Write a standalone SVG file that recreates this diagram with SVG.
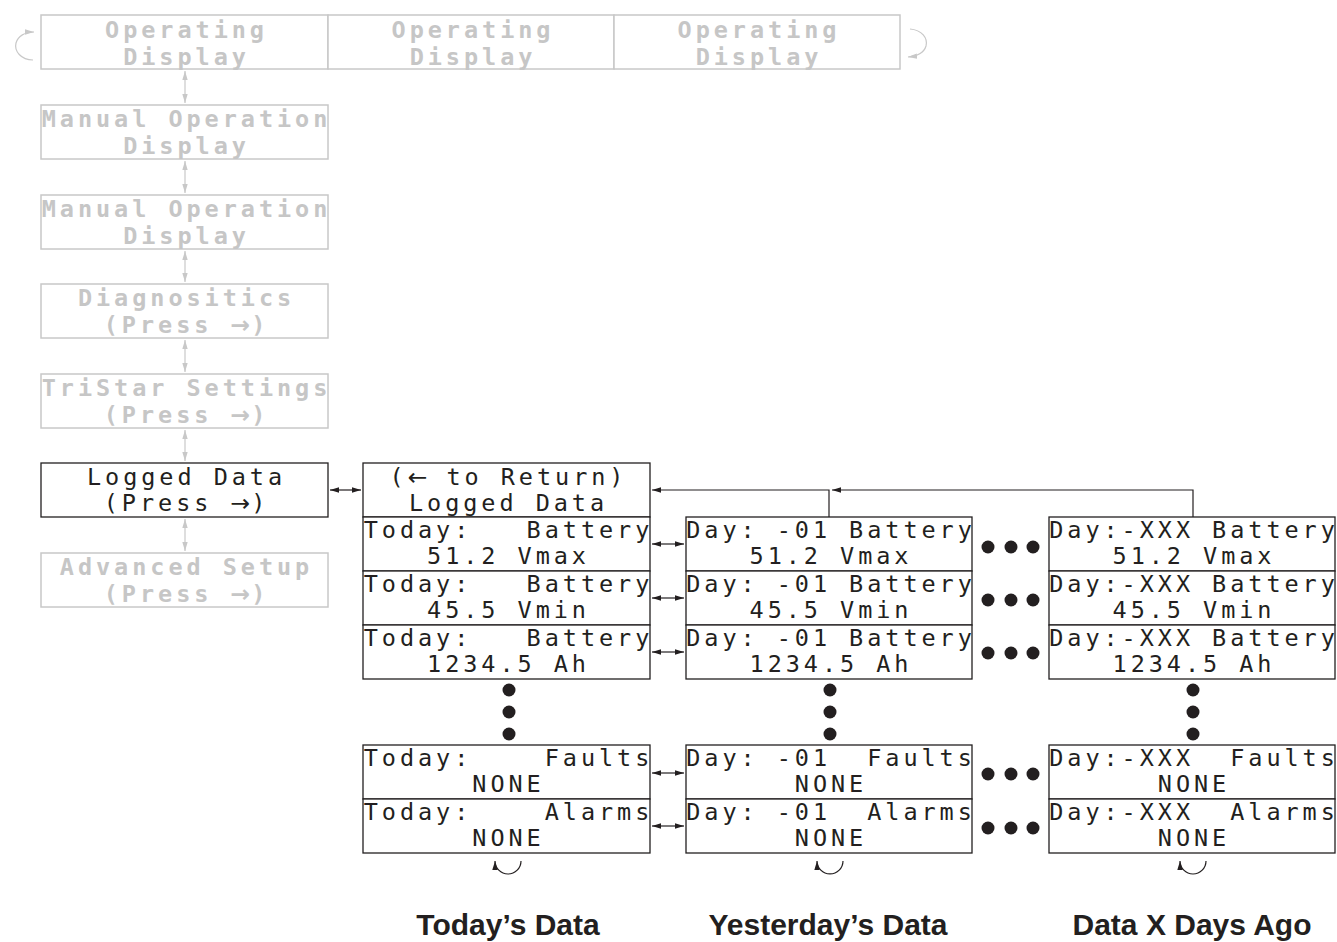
<svg xmlns="http://www.w3.org/2000/svg" width="1337" height="942" viewBox="0 0 1337 942">
<style>
.g{fill:#fff;stroke:#c8c8c8;stroke-width:1.5}
.b{fill:#fff;stroke:#231f20;stroke-width:1.3}
.gt{font-family:"DejaVu Sans Mono","Liberation Mono",monospace;font-weight:bold;font-size:23.5px;letter-spacing:3.95px;fill:#c6c6c6;text-anchor:middle}
.bt{font-family:"DejaVu Sans Mono","Liberation Mono",monospace;font-size:23.5px;letter-spacing:3.95px;fill:#231f20;text-anchor:middle}
.ar{font-family:"DejaVu Sans",sans-serif;letter-spacing:1px}
.lbl{font-family:"Liberation Sans",Arial,sans-serif;font-weight:bold;font-size:30px;fill:#231f20;text-anchor:middle}
.gl{fill:none;stroke:#c8c8c8;stroke-width:1.2}
.bl{fill:none;stroke:#231f20;stroke-width:1.2}
.dot{fill:#231f20}
</style>
<defs>
<marker id="ab" viewBox="0 0 10 6" refX="10" refY="3" markerWidth="9" markerHeight="5.4" markerUnits="userSpaceOnUse" orient="auto-start-reverse"><path d="M0,0 L10,3 L0,6 Z" fill="#231f20"/></marker>
<marker id="ag" viewBox="0 0 10 6" refX="10" refY="3" markerWidth="9" markerHeight="5.4" markerUnits="userSpaceOnUse" orient="auto-start-reverse"><path d="M0,0 L10,3 L0,6 Z" fill="#c8c8c8"/></marker>
</defs>

<g id="connectors">
<path class="gl" d="M185,71 V103" marker-start="url(#ag)" marker-end="url(#ag)"/>
<path class="gl" d="M185,161 V193" marker-start="url(#ag)" marker-end="url(#ag)"/>
<path class="gl" d="M185,251 V282" marker-start="url(#ag)" marker-end="url(#ag)"/>
<path class="gl" d="M185,340 V372" marker-start="url(#ag)" marker-end="url(#ag)"/>
<path class="gl" d="M185,430 V461" marker-start="url(#ag)" marker-end="url(#ag)"/>
<path class="gl" d="M185,519 V551" marker-start="url(#ag)" marker-end="url(#ag)"/>
<path class="gl" d="M33,60 C21,60 14,51 16,43 C18,36 25,32 34,32" marker-end="url(#ag)"/>
<path class="gl" d="M910,29 C922,30 928,38 926,46 C924,53 918,56 908,57" marker-end="url(#ag)"/>
<path class="bl" d="M330,490 H361" marker-start="url(#ab)" marker-end="url(#ab)"/>
<path class="bl" d="M652,544 H684" marker-start="url(#ab)" marker-end="url(#ab)"/>
<path class="bl" d="M652,598 H684" marker-start="url(#ab)" marker-end="url(#ab)"/>
<path class="bl" d="M652,652 H684" marker-start="url(#ab)" marker-end="url(#ab)"/>
<path class="bl" d="M652,773 H684" marker-start="url(#ab)" marker-end="url(#ab)"/>
<path class="bl" d="M652,826 H684" marker-start="url(#ab)" marker-end="url(#ab)"/>
<path class="bl" d="M829,517 V490 H652" marker-end="url(#ab)"/>
<path class="bl" d="M1193,517 V490 H832" marker-end="url(#ab)"/>
<path class="bl" d="M521,861 A13,13 0 0 1 495,861" marker-end="url(#ab)"/>
<path class="bl" d="M843,861 A13,13 0 0 1 817,861" marker-end="url(#ab)"/>
<path class="bl" d="M1206,861 A13,13 0 0 1 1180,861" marker-end="url(#ab)"/>
</g>

<g id="dots">
<circle class="dot" cx="988" cy="547" r="6.5"/><circle class="dot" cx="1011" cy="547" r="6.5"/><circle class="dot" cx="1033" cy="547" r="6.5"/>
<circle class="dot" cx="988" cy="600" r="6.5"/><circle class="dot" cx="1011" cy="600" r="6.5"/><circle class="dot" cx="1033" cy="600" r="6.5"/>
<circle class="dot" cx="988" cy="653" r="6.5"/><circle class="dot" cx="1011" cy="653" r="6.5"/><circle class="dot" cx="1033" cy="653" r="6.5"/>
<circle class="dot" cx="988" cy="774" r="6.5"/><circle class="dot" cx="1011" cy="774" r="6.5"/><circle class="dot" cx="1033" cy="774" r="6.5"/>
<circle class="dot" cx="988" cy="828" r="6.5"/><circle class="dot" cx="1011" cy="828" r="6.5"/><circle class="dot" cx="1033" cy="828" r="6.5"/>
<circle class="dot" cx="509" cy="690" r="6.5"/><circle class="dot" cx="509" cy="712" r="6.5"/><circle class="dot" cx="509" cy="734" r="6.5"/>
<circle class="dot" cx="830" cy="690" r="6.5"/><circle class="dot" cx="830" cy="712" r="6.5"/><circle class="dot" cx="830" cy="734" r="6.5"/>
<circle class="dot" cx="1193" cy="690" r="6.5"/><circle class="dot" cx="1193" cy="712" r="6.5"/><circle class="dot" cx="1193" cy="734" r="6.5"/>
</g>

<g id="op1"><rect class="g" x="41" y="15" width="287" height="54"/><text class="gt" x="186.5" y="38">Operating</text><text class="gt" x="186.5" y="65">Display</text></g>
<g id="op2"><rect class="g" x="328" y="15" width="286" height="54"/><text class="gt" x="473" y="38">Operating</text><text class="gt" x="473" y="65">Display</text></g>
<g id="op3"><rect class="g" x="614" y="15" width="286" height="54"/><text class="gt" x="759" y="38">Operating</text><text class="gt" x="759" y="65">Display</text></g>
<g id="man1"><rect class="g" x="41" y="105" width="287" height="54"/><text class="gt" x="186.5" y="127">Manual Operation</text><text class="gt" x="186.5" y="154">Display</text></g>
<g id="man2"><rect class="g" x="41" y="195" width="287" height="54"/><text class="gt" x="186.5" y="217">Manual Operation</text><text class="gt" x="186.5" y="244">Display</text></g>
<g id="diag"><rect class="g" x="41" y="284" width="287" height="54"/><text class="gt" x="186.5" y="306">Diagnositics</text><text class="gt" x="186.5" y="333">(Press <tspan class="ar">→</tspan>)</text></g>
<g id="tristar"><rect class="g" x="41" y="374" width="287" height="54"/><text class="gt" x="186.5" y="396">TriStar Settings</text><text class="gt" x="186.5" y="423">(Press <tspan class="ar">→</tspan>)</text></g>
<g id="logged"><rect class="b" x="41" y="463" width="287" height="54"/><text class="bt" x="186.5" y="485">Logged Data</text><text class="bt" x="186.5" y="511">(Press <tspan class="ar">→</tspan>)</text></g>
<g id="adv"><rect class="g" x="41" y="553" width="287" height="54"/><text class="gt" x="186.5" y="575">Advanced Setup</text><text class="gt" x="186.5" y="602">(Press <tspan class="ar">→</tspan>)</text></g>

<g id="ret"><rect class="b" x="363" y="463" width="287" height="54"/><text class="bt" x="508.5" y="485">(<tspan class="ar">←</tspan> to Return)</text><text class="bt" x="508.5" y="511">Logged Data</text></g>

<g id="t1"><rect class="b" x="363" y="517" width="287" height="54"/><text class="bt" x="508.5" y="538" xml:space="preserve">Today:   Battery</text><text class="bt" x="508.5" y="564">51.2 Vmax</text></g>
<g id="t2"><rect class="b" x="363" y="571" width="287" height="54"/><text class="bt" x="508.5" y="592" xml:space="preserve">Today:   Battery</text><text class="bt" x="508.5" y="618">45.5 Vmin</text></g>
<g id="t3"><rect class="b" x="363" y="625" width="287" height="54"/><text class="bt" x="508.5" y="646" xml:space="preserve">Today:   Battery</text><text class="bt" x="508.5" y="672">1234.5 Ah</text></g>
<g id="t4"><rect class="b" x="363" y="745" width="287" height="54"/><text class="bt" x="508.5" y="766" xml:space="preserve">Today:    Faults</text><text class="bt" x="508.5" y="792">NONE</text></g>
<g id="t5"><rect class="b" x="363" y="799" width="287" height="54"/><text class="bt" x="508.5" y="820" xml:space="preserve">Today:    Alarms</text><text class="bt" x="508.5" y="846">NONE</text></g>

<g id="y1"><rect class="b" x="686" y="517" width="286" height="54"/><text class="bt" x="831" y="538" xml:space="preserve">Day: -01 Battery</text><text class="bt" x="831" y="564">51.2 Vmax</text></g>
<g id="y2"><rect class="b" x="686" y="571" width="286" height="54"/><text class="bt" x="831" y="592" xml:space="preserve">Day: -01 Battery</text><text class="bt" x="831" y="618">45.5 Vmin</text></g>
<g id="y3"><rect class="b" x="686" y="625" width="286" height="54"/><text class="bt" x="831" y="646" xml:space="preserve">Day: -01 Battery</text><text class="bt" x="831" y="672">1234.5 Ah</text></g>
<g id="y4"><rect class="b" x="686" y="745" width="286" height="54"/><text class="bt" x="831" y="766" xml:space="preserve">Day: -01  Faults</text><text class="bt" x="831" y="792">NONE</text></g>
<g id="y5"><rect class="b" x="686" y="799" width="286" height="54"/><text class="bt" x="831" y="820" xml:space="preserve">Day: -01  Alarms</text><text class="bt" x="831" y="846">NONE</text></g>

<g id="x1"><rect class="b" x="1049" y="517" width="286" height="54"/><text class="bt" x="1194" y="538" xml:space="preserve">Day:-XXX Battery</text><text class="bt" x="1194" y="564">51.2 Vmax</text></g>
<g id="x2"><rect class="b" x="1049" y="571" width="286" height="54"/><text class="bt" x="1194" y="592" xml:space="preserve">Day:-XXX Battery</text><text class="bt" x="1194" y="618">45.5 Vmin</text></g>
<g id="x3"><rect class="b" x="1049" y="625" width="286" height="54"/><text class="bt" x="1194" y="646" xml:space="preserve">Day:-XXX Battery</text><text class="bt" x="1194" y="672">1234.5 Ah</text></g>
<g id="x4"><rect class="b" x="1049" y="745" width="286" height="54"/><text class="bt" x="1194" y="766" xml:space="preserve">Day:-XXX  Faults</text><text class="bt" x="1194" y="792">NONE</text></g>
<g id="x5"><rect class="b" x="1049" y="799" width="286" height="54"/><text class="bt" x="1194" y="820" xml:space="preserve">Day:-XXX  Alarms</text><text class="bt" x="1194" y="846">NONE</text></g>

<g id="labels">
<text class="lbl" x="508" y="935">Today’s Data</text>
<text class="lbl" x="828" y="935">Yesterday’s Data</text>
<text class="lbl" x="1192" y="935">Data X Days Ago</text>
</g>
</svg>
